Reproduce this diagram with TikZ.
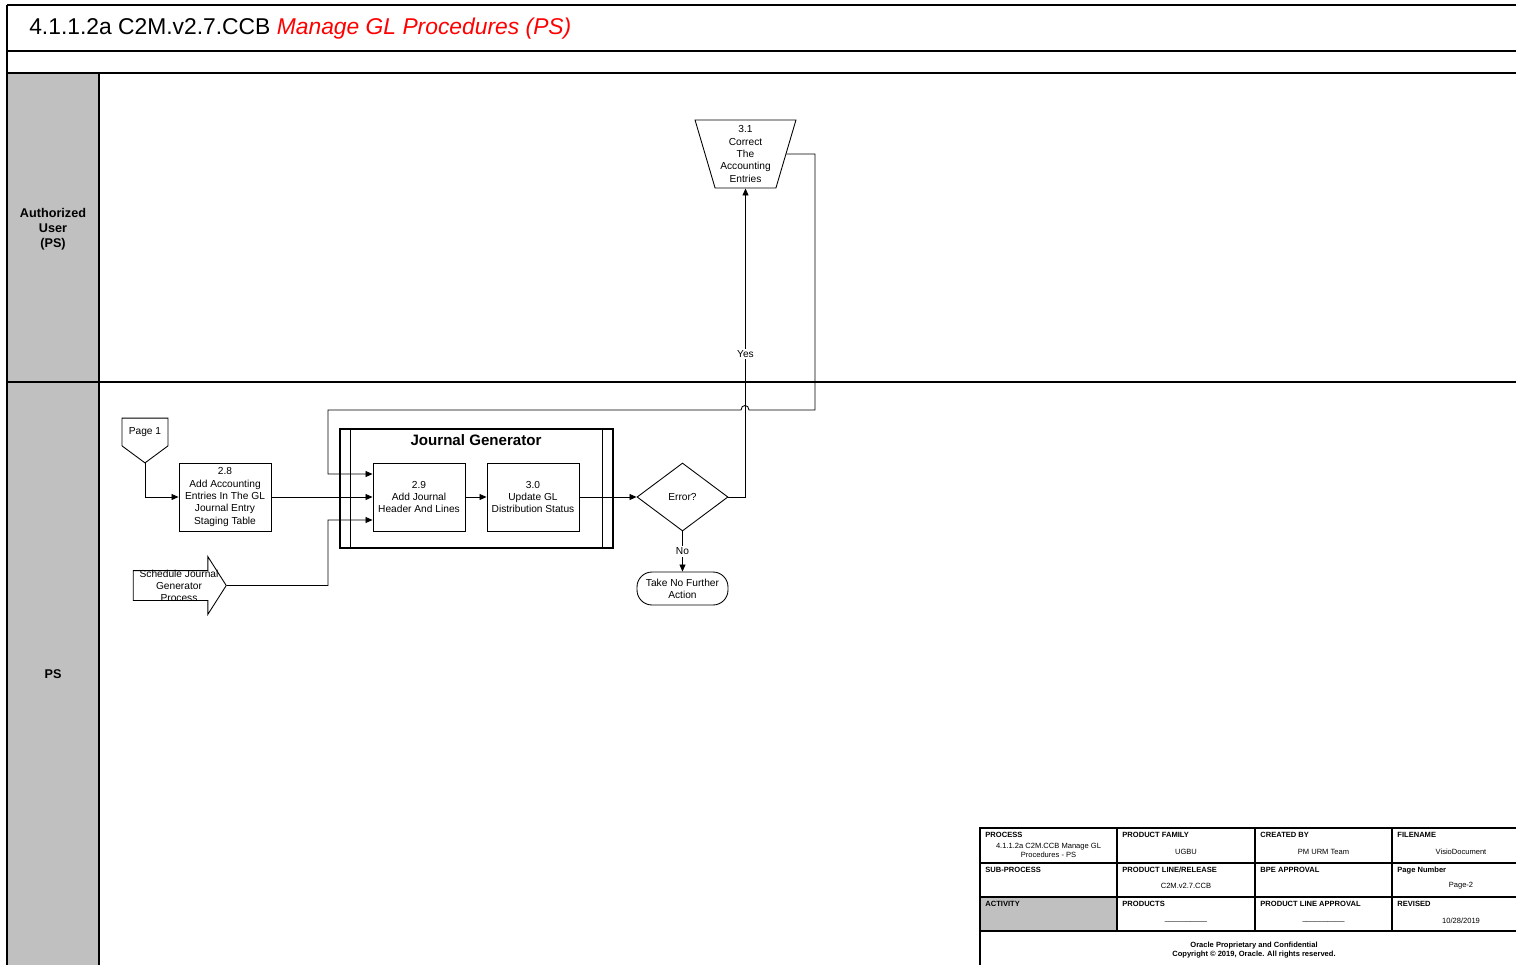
\documentclass[tikz,border=0pt]{standalone}
\usepackage{fontspec}
\setmainfont{Liberation Sans}
\usepackage{tikz}
\usetikzlibrary{arrows.meta,positioning,shapes.geometric,shapes.symbols,shapes.arrows}

\definecolor{lanegray}{RGB}{192,192,192}

\begin{document}
\begin{tikzpicture}[x=0.02cm,y=-0.02cm,
  >={Triangle[length=4pt,width=3.4pt]},
  line width=0.5pt,
  txt/.style={font=\fontsize{5.8}{7}\selectfont,align=center},
  task/.style={draw,rectangle,txt,minimum width=1.84cm,minimum height=1.36cm,inner sep=1pt},
  lbl/.style={txt,fill=white,inner sep=1pt},
  lane/.style={font=\fontsize{7.2}{8.5}\selectfont\bfseries,align=center},
  cellhead/.style={font=\fontsize{4.3}{5.1}\selectfont\bfseries,anchor=north west,inner sep=0pt},
  cellval/.style={font=\fontsize{4.3}{5.1}\selectfont,align=center,inner sep=0pt},
  gridline/.style={line width=0.8pt}]

\useasboundingbox (0,0) rectangle (1516,965);

% Couloirs
\fill[lanegray] (7,73) rectangle (99,965);
\draw[line width=0.6pt] (7,5) -- (1516,5);
\draw[line width=0.6pt] (7,51) -- (1516,51);
\draw[line width=0.6pt] (7,73) -- (1516,73);
\draw[line width=0.6pt] (7,382) -- (1516,382);
\draw[line width=0.6pt] (7,5) -- (7,965);
\draw[line width=0.6pt] (99,73) -- (99,965);

% Titre
\node[anchor=west,font=\fontsize{13}{15}\selectfont] (title) at (23,29)
{4.1.1.2a C2M.v2.7.CCB \textcolor{red}{\itshape Manage GL Procedures (PS)}};

% Noms des couloirs
\node[lane] (user) at (53,229) {Authorized\\User\\(PS)};
\node[lane] (ps) at (53,674) {PS};

% Tâche manuelle 3.1
\node[
draw,
trapezium,
shape border rotate=180,
trapezium angle=73.6,
trapezium stretches=true,
minimum width=2.02cm,
minimum height=1.36cm,
inner sep=0pt,
txt
] (c31) at (745.5,154)
{3.1\\Correct\\The\\Accounting\\Entries};

% Renvoi de page
\node[
draw,
signal,
signal to=south,
signal pointer angle=107,
minimum width=0.92cm,
minimum height=0.82cm,
inner sep=1pt,
txt
] (page1) at (145,432) {Page 1};

% Tâche 2.8
\node[task] (b28) at (225,497)
{2.8\\Add Accounting\\Entries In The GL\\Journal Entry\\Staging Table};

% Cadre Journal Generator
\node[draw,line width=0.8pt,minimum width=5.46cm,minimum height=2.38cm] (jg) at (476.5,488.5) {};
\draw[line width=0.8pt] ([xshift=0.22cm]jg.north west) -- ([xshift=0.22cm]jg.south west);
\draw[line width=0.8pt] ([xshift=-0.22cm]jg.north east) -- ([xshift=-0.22cm]jg.south east);
\node[font=\fontsize{8.6}{10}\selectfont\bfseries] (jgtitle) at (476,440) {Journal Generator};

% Tâches 2.9 et 3.0
\node[task] (b29) at (419,497) {2.9\\Add Journal\\Header And Lines};
\node[task] (b30) at (533,497) {3.0\\Update GL\\Distribution Status};

% Décision
\node[draw,diamond,minimum width=1.82cm,minimum height=1.36cm,inner sep=0pt,txt] (err) at (682.5,497) {Error?};

% Fin
\node[draw,rectangle,rounded corners=0.3cm,minimum width=1.82cm,minimum height=0.66cm,inner sep=1pt,txt]
(stop) at (682.5,588.5) {Take No Further\\Action};

% Déclencheur
\node[
draw,
single arrow,
single arrow head extend=0.28cm,
single arrow tip angle=115,
single arrow head indent=0pt,
minimum height=1.86cm,
minimum width=1.14cm,
text height=0.29cm,
text depth=0.29cm,
inner sep=0pt
] (sched) at (175,585.5) {};
\node[txt] (schedtxt) at (179,586) {Schedule Journal\\Generator\\Process};

% Flèches
\draw[->] (page1.south) |- (b28.west);
\draw[->] (b28.east) -- (b29.west);
\coordinate (schedbend) at (328,520);
\draw[->] (sched.tip) -| (schedbend) -- ([yshift=-0.46cm]b29.west);
\draw[->] (b29.east) -- (b30.west);
\draw[->] (b30.east) -- (err.west);
\draw[->] (err.east) -| node[lbl,pos=0.732] {Yes} (c31.south);
\draw[->] (err.south) -- node[lbl] {No} (stop.north);

% Retour vers 2.9
\coordinate (backright) at (815,410);
\coordinate (backleft) at (328,410);
\draw[->] (c31.east) -| (backright) -- (749,410)
  .. controls (749,404) and (741,404) .. (741,410)
  -- (backleft) |- ([yshift=0.46cm]b29.west);

% Cartouche
\fill[lanegray] (980,897) rectangle (1117,931);
\draw[gridline] (980,965) -- (980,828) -- (1516,828);
\draw[gridline] (980,863) -- (1516,863);
\draw[gridline] (980,897) -- (1516,897);
\draw[gridline] (980,931) -- (1516,931);
\draw[gridline] (1117,828) -- (1117,931);
\draw[gridline] (1255,828) -- (1255,931);
\draw[gridline] (1392,828) -- (1392,931);

\node[cellhead] (hproc) at (985,832) {PROCESS};
\node[cellval] (vproc) at (1048.5,850.5) {4.1.1.2a C2M.CCB Manage GL\\Procedures - PS};
\node[cellhead] (hfam) at (1122,832) {PRODUCT FAMILY};
\node[cellval] (vfam) at (1186,852) {UGBU};
\node[cellhead] (hcre) at (1260,832) {CREATED BY};
\node[cellval] (vcre) at (1323.5,852) {PM URM Team};
\node[cellhead] (hfile) at (1397,832) {FILENAME};
\node[cellval] (vfile) at (1461,852) {VisioDocument};

\node[cellhead] (hsub) at (985,867) {SUB-PROCESS};
\node[cellhead] (hrel) at (1122,867) {PRODUCT LINE/RELEASE};
\node[cellval] (vrel) at (1186,886) {C2M.v2.7.CCB};
\node[cellhead] (hbpe) at (1260,867) {BPE APPROVAL};
\node[cellhead] (hpage) at (1397,867) {Page Number};
\node[cellval] (vpage) at (1461,886) {Page-2};

\node[cellhead] (hact) at (985,901) {ACTIVITY};
\node[cellhead] (hprod) at (1122,901) {PRODUCTS};
\node[cellval] (vprod) at (1186,921) {\_\_\_\_\_\_\_\_\_\_};
\node[cellhead] (happ) at (1260,901) {PRODUCT LINE APPROVAL};
\node[cellval] (vapp) at (1323.5,921) {\_\_\_\_\_\_\_\_\_\_};
\node[cellhead] (hrev) at (1397,901) {REVISED};
\node[cellval] (vrev) at (1461,921) {10/28/2019};

\node[cellval,font=\fontsize{4.3}{5.1}\selectfont\bfseries] (copy) at (1254,950.5)
{Oracle Proprietary and Confidential\\Copyright © 2019, Oracle. All rights reserved.};

\end{tikzpicture}
\end{document}
